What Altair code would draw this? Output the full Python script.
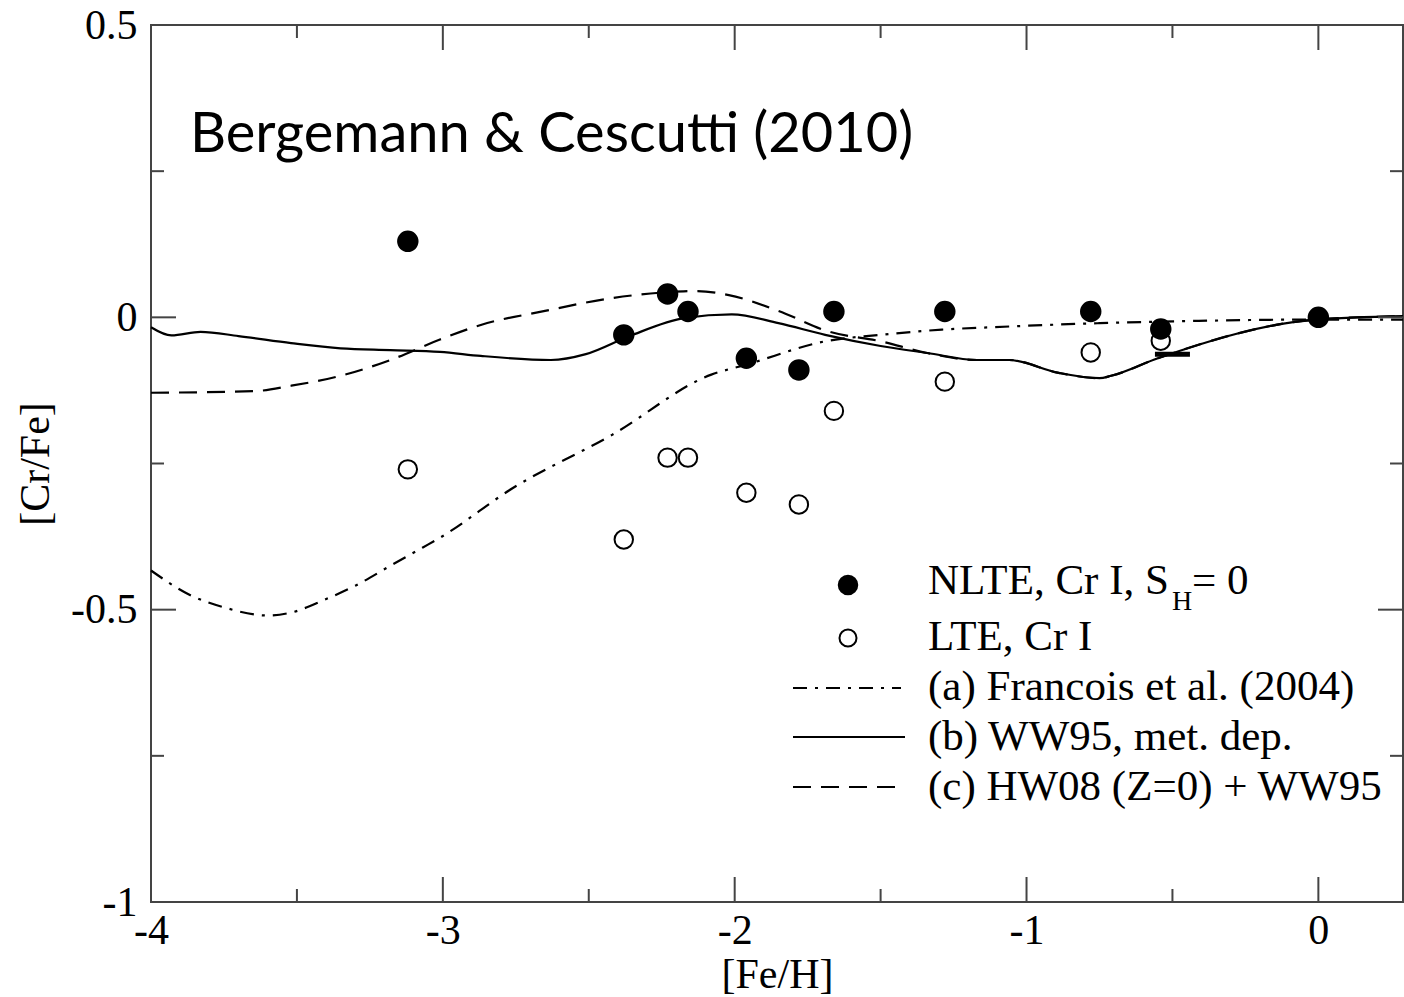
import altair as alt
import pandas as pd

# ---- observations: [Cr/Fe] versus [Fe/H] ----
nlte_feh = [-3.12, -2.38, -2.23, -2.16, -1.96, -1.78, -1.66, -1.28, -0.78, -0.54, 0.0]
nlte_crfe = [0.13, -0.03, 0.04, 0.01, -0.07, -0.09, 0.01, 0.01, 0.01, -0.02, 0.0]

lte_feh = [-3.12, -2.38, -2.23, -2.16, -1.96, -1.78, -1.66, -1.28, -0.78, -0.54]
lte_crfe = [-0.26, -0.38, -0.24, -0.24, -0.30, -0.32, -0.16, -0.11, -0.06, -0.04]

# ---- chemical evolution models ----
# (a) Francois et al. (2004)
model_a_feh = [-4.00, -3.87, -3.75, -3.60, -3.52, -3.41, -3.30, -3.18, -3.07, -3.01,
               -2.76, -2.42, -2.08, -1.96, -1.69, -1.50, -1.29, -1.12, -0.75, -0.41,
               -0.07, 0.29]
model_a_crfe = [-0.433, -0.474, -0.496, -0.510, -0.505, -0.484, -0.459, -0.425, -0.394, -0.377,
                -0.292, -0.201, -0.098, -0.081, -0.041, -0.030, -0.021, -0.017, -0.010, -0.006,
                -0.004, -0.004]
# (b) WW95, metallicity dependent yields
model_b_feh = [-4.00, -3.93, -3.83, -3.70, -3.52, -3.35, -3.18, -3.01, -2.87, -2.63,
               -2.51, -2.36, -2.17, -2.01, -1.85, -1.69, -1.50, -1.34, -1.17, -1.06,
               -0.89, -0.75, -0.71, -0.55, -0.01, 0.29]
model_b_crfe = [-0.017, -0.031, -0.025, -0.032, -0.044, -0.053, -0.056, -0.059, -0.066, -0.073,
                -0.063, -0.032, -0.001, 0.005, -0.010, -0.030, -0.049, -0.061, -0.073, -0.073,
                -0.095, -0.104, -0.100, -0.070, -0.004, 0.002]
# (c) HW08 (Z=0) + WW95
model_c_feh = [-4.00, -3.64, -3.52, -3.35, -3.18, -3.01, -2.87, -2.65, -2.42, -2.23,
               -2.13, -2.02, -1.85, -1.68, -1.50, -1.34, -1.17, -1.06, -0.89, -0.75,
               -0.71, -0.55, -0.01, 0.29]
model_c_crfe = [-0.129, -0.126, -0.117, -0.100, -0.073, -0.038, -0.013, 0.011, 0.033, 0.043,
                0.045, 0.038, 0.011, -0.024, -0.041, -0.061, -0.073, -0.073, -0.095, -0.104,
                -0.100, -0.070, -0.004, 0.002]
# short bar drawn at the [Fe/H] = -0.54 star
bar_feh = [-0.56, -0.44]
bar_crfe = [-0.063, -0.063]

# ---- axis ticks ----
x_major = [-4, -3, -2, -1, 0]
x_minor = [-3.5, -2.5, -1.5, -0.5]
y_major = [-1, -0.5, 0, 0.5]
y_minor = [-0.75, -0.25, 0.25]

legend_labels = ["NLTE, Cr I, S", "H", "= 0", "LTE, Cr I", "(a) Francois et al. (2004)",
                 "(b) WW95, met. dep.", "(c) HW08 (Z=0) + WW95"]
title_text = ["Bergemann & Cescutti (2010)"]

W, H = 1252, 877
SERIF = "Liberation Serif"
FS = 42
LFS = 43
INK = "#000000"
FRAME = "#444444"

xs = alt.Scale(domain=[-4, 0.29], nice=False, zero=False)
ys = alt.Scale(domain=[-1, 0.5], nice=False, zero=False)

axis_style = dict(
    labelFont=SERIF, labelFontSize=FS, labelColor=INK,
    titleFont=SERIF, titleFontSize=FS, titleColor=INK, titleFontWeight="normal",
    ticks=False, domain=False, grid=False, labelFlush=False,
    labelExpr="'' + datum.value",
)
x_axis = alt.Axis(values=x_major, title="[Fe/H]", labelPadding=8, titlePadding=3,
                  **axis_style)
y_axis = alt.Axis(values=y_major, title="[Cr/Fe]", labelPadding=14, titlePadding=13,
                  **axis_style)


def xy(feh, crfe):
    return pd.DataFrame({"feh": feh, "crfe": crfe})


X = alt.X("feh:Q", scale=xs, axis=x_axis)
Y = alt.Y("crfe:Q", scale=ys, axis=y_axis)
Xn = alt.X("feh:Q", scale=xs)
Yn = alt.Y("crfe:Q", scale=ys)

line_a = alt.Chart(xy(model_a_feh, model_a_crfe)).mark_line(
    color=INK, strokeWidth=2.2, strokeDash=[14, 8, 3, 8], interpolate="monotone"
).encode(x=X, y=Y)
line_b = alt.Chart(xy(model_b_feh, model_b_crfe)).mark_line(
    color=INK, strokeWidth=2.2, interpolate="monotone"
).encode(x=Xn, y=Yn)
line_c = alt.Chart(xy(model_c_feh, model_c_crfe)).mark_line(
    color=INK, strokeWidth=2.2, strokeDash=[18, 10], interpolate="monotone"
).encode(x=Xn, y=Yn)
bar = alt.Chart(xy(bar_feh, bar_crfe)).mark_line(
    color=INK, strokeWidth=5
).encode(x=Xn, y=Yn)

open_pts = alt.Chart(xy(lte_feh, lte_crfe)).mark_point(
    shape="circle", filled=False, color=INK, strokeWidth=2, size=340, opacity=1
).encode(x=Xn, y=Yn)
filled_pts = alt.Chart(xy(nlte_feh, nlte_crfe)).mark_circle(
    color=INK, size=460, opacity=1
).encode(x=Xn, y=Yn)


# inward-pointing ticks on all four sides
def vticks(vals, length):
    d = pd.DataFrame({"feh": vals})
    bottom = alt.Chart(d).mark_rule(color=FRAME, strokeWidth=2).encode(
        x=Xn, y=alt.value(H), y2=alt.value(H - length))
    top = alt.Chart(d).mark_rule(color=FRAME, strokeWidth=2).encode(
        x=Xn, y=alt.value(0), y2=alt.value(length))
    return [bottom, top]


def hticks(vals, length):
    d = pd.DataFrame({"crfe": vals})
    left = alt.Chart(d).mark_rule(color=FRAME, strokeWidth=2).encode(
        y=Yn, x=alt.value(0), x2=alt.value(length))
    right = alt.Chart(d).mark_rule(color=FRAME, strokeWidth=2).encode(
        y=Yn, x=alt.value(W), x2=alt.value(W - length))
    return [left, right]


ticks = vticks(x_major, 25) + vticks(x_minor, 13) + hticks(y_major, 25) + hticks(y_minor, 13)


# legend
def ltext(label, x, y, size=LFS):
    return alt.Chart(pd.DataFrame({"t": [label]})).mark_text(
        font=SERIF, fontSize=size, align="left", baseline="alphabetic", color=INK
    ).encode(text="t:N", x=alt.value(x), y=alt.value(y))


LX = 777
legend = [
    alt.Chart(pd.DataFrame({"t": [0]})).mark_circle(color=INK, size=420, opacity=1).encode(
        x=alt.value(697), y=alt.value(560)),
    ltext(legend_labels[0], LX, 569),
    ltext(legend_labels[1], LX + 244, 585, 28),
    ltext(legend_labels[2], LX + 264, 569),
    alt.Chart(pd.DataFrame({"t": [0]})).mark_point(
        shape="circle", filled=False, color=INK, strokeWidth=2, size=290, opacity=1).encode(
        x=alt.value(697), y=alt.value(613)),
    ltext(legend_labels[3], LX, 625),
    alt.Chart(pd.DataFrame({"t": [0]})).mark_rule(
        color=INK, strokeWidth=2, strokeDash=[14, 8, 3, 8]).encode(
        x=alt.value(642), x2=alt.value(750), y=alt.value(663)),
    ltext(legend_labels[4], LX, 675),
    alt.Chart(pd.DataFrame({"t": [0]})).mark_rule(color=INK, strokeWidth=2).encode(
        x=alt.value(642), x2=alt.value(754), y=alt.value(712)),
    ltext(legend_labels[5], LX, 725),
    alt.Chart(pd.DataFrame({"t": [0]})).mark_rule(
        color=INK, strokeWidth=2, strokeDash=[18, 10]).encode(
        x=alt.value(642), x2=alt.value(750), y=alt.value(762)),
    ltext(legend_labels[6], LX, 775),
]

title = alt.Chart(pd.DataFrame({"t": title_text})).mark_text(
    font="Lato", fontSize=56, align="left", baseline="alphabetic", color=INK
).encode(text="t:N", x=alt.value(39), y=alt.value(127))

chart = alt.layer(
    line_a, line_b, line_c, bar, open_pts, filled_pts, *ticks, *legend, title
).properties(
    width=W, height=H,
    autosize=alt.AutoSizeParams(type="none"),
    padding={"left": 151, "top": 25, "right": 1, "bottom": 95},
    background="white",
).configure_view(
    stroke=FRAME, strokeWidth=2
)

chart.save("out.html", embed_options={"renderer": "svg", "actions": False})
